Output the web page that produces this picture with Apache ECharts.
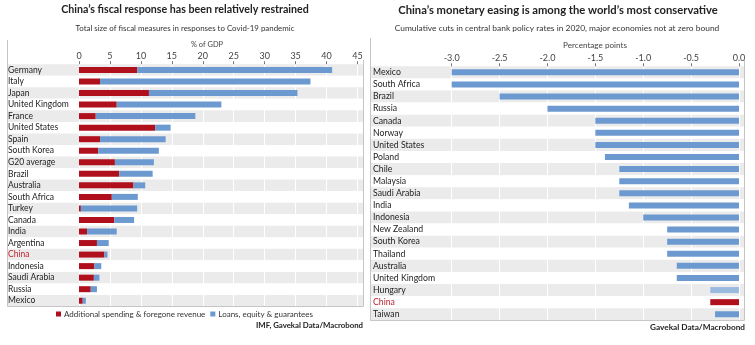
<!DOCTYPE html>
<html><head><meta charset="utf-8">
<script src="https://cdn.jsdelivr.net/npm/echarts@6/dist/echarts.min.js"></script>
<style>html,body{margin:0;padding:0;background:#fff}#c{width:755px;height:345px}</style>
</head><body><div id="c"></div>
<script>
// ---- Left chart data (% of GDP) ----
const countriesL = ['Germany','Italy','Japan','United Kingdom','France','United States','Spain','South Korea','G20 average','Brazil','Australia','South Africa','Turkey','Canada','India','Argentina','China','Indonesia','Saudi Arabia','Russia','Mexico'];
const spendingL = [9.4,3.4,11.3,6.1,2.7,12.3,3.4,3.1,5.8,6.5,8.8,5.3,0.3,5.7,1.3,2.9,4.1,2.5,2.4,1.9,0.6];
const loansL    = [31.5,34.0,24.0,16.9,16.1,2.5,10.6,9.8,6.3,5.4,1.9,4.2,9.1,3.2,4.8,1.9,0.5,1.1,0.9,1.0,0.5];
const ticksL = {min:0, max:45, interval:5};
// ---- Right chart data (percentage points) ----
const countriesR = ['Mexico','South Africa','Brazil','Russia','Canada','Norway','United States','Poland','Chile','Malaysia','Saudi Arabia','India','Indonesia','New Zealand','South Korea','Thailand','Australia','United Kingdom','Hungary','China','Taiwan'];
const cutsR = [-3.0,-3.0,-2.5,-2.0,-1.5,-1.5,-1.5,-1.4,-1.25,-1.25,-1.25,-1.15,-1.0,-0.75,-0.75,-0.75,-0.65,-0.65,-0.3,-0.3,-0.25];
const ticksR = {min:-3, max:0, interval:0.5};

const FONT = 'Lato, "Noto Sans", sans-serif';
const RED = '#b0101c', BLUE = '#6c9ad0', LIGHTBLUE = '#9bbae0', STRIPE = '#ebebeb', BORDER = '#c6c6c6';
const mctx = document.createElement('canvas').getContext('2d');
function fit(text, weight, target){ mctx.font = weight+' 100px '+FONT; return 100*target/mctx.measureText(text).width; }
function txt(text, x, y, weight, target, align, color){
  const size = fit(text, weight, target);
  return {type:'text', x:x, y:y, z:10, style:{text:text, font: weight+' '+size.toFixed(2)+'px '+FONT, fill:color||'#222', align:align||'center', verticalAlign:'middle'}};
}
function line(x1,y1,x2,y2){ return {type:'line', z:10, shape:{x1:x1,y1:y1,x2:x2,y2:y2}, style:{stroke:BORDER, lineWidth:1}}; }

const chart = echarts.init(document.getElementById('c'), null, {renderer:'canvas'});
const tLeft = 'China\u2019s fiscal response has been relatively restrained';
const tRight = 'China\u2019s monetary easing is among the world\u2019s most conservative';
const hiddenX = (g)=>({gridIndex:g, type:'value', show:false, min:0, max:1});
const stripeY = (g, data)=>({gridIndex:g, type:'category', data:data, inverse:true, axisLine:{show:false}, axisTick:{show:false, interval:0}, axisLabel:{show:false, interval:0}, splitLine:{show:false}, splitArea:{show:true, interval:0, areaStyle:{color:[STRIPE,'#ffffff']}}});
const valX = (g, t, fmt)=>({gridIndex:g, type:'value', position:'top', min:t.min, max:t.max, interval:t.interval, z:1,
  axisLine:{show:false}, axisTick:{show:true, length:3, lineStyle:{color:'#777'}},
  axisLabel:{margin:4, fontSize:9, color:'#444', fontFamily:FONT, formatter:fmt},
  splitLine:{show:true, lineStyle:{color:'#ffffff', width:1}}});
const labY = (g, data, margin, fs)=>({gridIndex:g, type:'category', data:data, inverse:true, axisLine:{show:false}, axisTick:{show:false}, splitLine:{show:false},
  axisLabel:{interval:0, align:'left', margin:margin, fontSize:fs, fontFamily:FONT, color:(v)=> v==='China' ? '#c0212c' : '#222'}});

chart.setOption({
  animation:false,
  grid:[
    {left:7, right:392, top:64.2, bottom:38.5},
    {left:79, right:397.5, top:64.2, bottom:38.5},
    {left:371, right:11, top:66.3, bottom:24.7},
    {left:451.7, right:16, top:66.3, bottom:24.7}
  ],
  xAxis:[hiddenX(0), valX(1, ticksL, v=>String(v)), hiddenX(2), valX(3, ticksR, v=>v.toFixed(1))],
  yAxis:[stripeY(0, countriesL), labY(1, countriesL, 71, 8.5), stripeY(2, countriesR), labY(3, countriesR, 78.7, 8.7)],
  legend:{data:['Additional spending & foregone revenue','Loans, equity & guarantees'], left:56, top:310, padding:0, itemWidth:5, itemHeight:5, itemGap:5, icon:'rect',
    textStyle:{fontSize:8, color:'#333', fontFamily:FONT, padding:[0,0,0,-2]}},
  series:[
    {name:'Additional spending & foregone revenue', type:'bar', xAxisIndex:1, yAxisIndex:1, stack:'L', barWidth:6, itemStyle:{color:RED}, data:spendingL},
    {name:'Loans, equity & guarantees', type:'bar', xAxisIndex:1, yAxisIndex:1, stack:'L', barWidth:6, itemStyle:{color:BLUE}, data:loansL},
    {name:'Policy rate cut', type:'bar', xAxisIndex:3, yAxisIndex:3, barWidth:6,
      itemStyle:{color:(p)=> p.name==='China' ? RED : (p.name==='Hungary' ? LIGHTBLUE : BLUE)}, data:cutsR}
  ],
  graphic:[
    txt(tLeft, 185, 10, 'bold', 248),
    txt(tRight, 558, 10, 'bold', 320),
    txt('Total size of fiscal measures in responses to Covid-19 pandemic', 185, 28, 'normal', 219, 'center', '#333'),
    txt('Cumulative cuts in central bank policy rates in 2020, major economies not at zero bound', 557, 28, 'normal', 325, 'center', '#333'),
    txt('% of GDP', 207, 45, 'normal', 32, 'center', '#444'),
    txt('Percentage points', 595, 45, 'normal', 64, 'center', '#444'),
    txt('IMF, Gavekal Data/Macrobond', 363, 325, 'bold', 107, 'right', '#222'),
    txt('Gavekal Data/Macrobond', 745, 327, 'bold', 95, 'right', '#222'),
    line(7.5, 40, 7.5, 306.5), line(7.5, 306.5, 363.5, 306.5), line(363.5, 60, 363.5, 306.5),
    line(370.5, 38, 370.5, 320.5), line(370.5, 320.5, 744.5, 320.5), line(744.5, 60, 744.5, 320.5)
  ]
});
</script></body></html>
